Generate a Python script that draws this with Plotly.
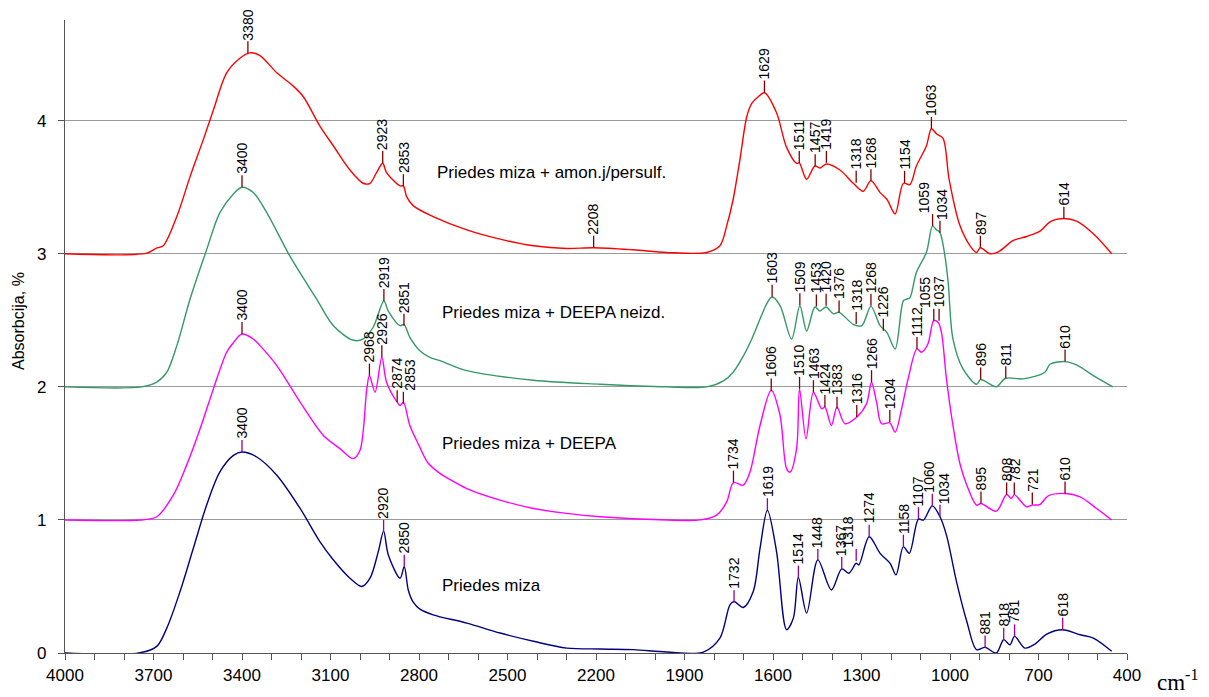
import plotly.graph_objects as go

# ---------------- data (wavenumber cm-1, absorbance relative to each curve's baseline) ----------------
offsets = [3, 2, 1, 0]
names = ["Priedes miza + amon.j/persulf.", "Priedes miza + DEEPA neizd.",
         "Priedes miza + DEEPA", "Priedes miza"]
colors = ["#FF0000", "#339966", "#FF00FF", "#000080"]
tick_colors = ["#800000", "#800000", "#800000", "#990099"]

red_wn = [4000, 3723, 3688, 3667, 3621, 3576, 3531, 3497, 3452, 3407, 3373, 3339, 3282, 3226, 3192,
          3136, 3090, 3034, 2989, 2966, 2944, 2923, 2910, 2864, 2853, 2842, 2819, 2752, 2638, 2525,
          2412, 2299, 2208, 2073, 1960, 1825, 1780, 1757, 1735, 1712, 1689, 1672, 1650, 1629, 1588,
          1554, 1520, 1511, 1486, 1458, 1441, 1419, 1373, 1328, 1294, 1268, 1237, 1214, 1186, 1158,
          1136, 1114, 1080, 1063, 1045, 1024, 1003, 966, 932, 910, 897, 864, 836, 785, 740, 695,
          661, 614, 571, 514, 452]
red_ab = [0.0, 0.005, 0.044, 0.06, 0.28, 0.58, 0.86, 1.08, 1.36, 1.47, 1.51, 1.49, 1.36, 1.26, 1.18,
          0.96, 0.81, 0.63, 0.53, 0.53, 0.61, 0.68, 0.61, 0.51, 0.51, 0.43, 0.36, 0.28, 0.18, 0.11,
          0.06, 0.04, 0.046, 0.03, 0.01, 0.01, 0.06, 0.21, 0.41, 0.71, 1.03, 1.13, 1.18, 1.21, 1.06,
          0.80, 0.68, 0.683, 0.56, 0.66, 0.645, 0.675, 0.63, 0.53, 0.47, 0.55, 0.46, 0.41, 0.30, 0.53,
          0.52, 0.66, 0.81, 0.94, 0.90, 0.87, 0.56, 0.21, 0.06, 0.01, 0.045, 0.0, 0.015, 0.10, 0.13, 0.17,
          0.24, 0.265, 0.245, 0.15, 0.0]

green_wn = [4000, 3740, 3689, 3655, 3621, 3576, 3520, 3475, 3429, 3400, 3362, 3316, 3237, 3147, 3090,
            3023, 2989, 2955, 2919, 2904, 2864, 2851, 2831, 2797, 2763, 2729, 2638, 2412, 2186, 1960, 1825,
            1768, 1735, 1701, 1672, 1644, 1620, 1603, 1576, 1537, 1509, 1486, 1458, 1441, 1420, 1396,
            1376, 1328, 1299, 1268, 1237, 1214, 1186, 1158, 1147, 1136, 1114, 1080, 1059, 1046, 1034,
            1017, 1006, 990, 956, 910, 896, 864, 843, 811, 753, 678, 661, 610, 571, 514, 448]
green_ab = [0.0, 0.0, 0.035, 0.11, 0.31, 0.66, 1.03, 1.31, 1.45, 1.50, 1.46, 1.31, 0.98, 0.66, 0.46,
            0.35, 0.36, 0.45, 0.645, 0.57, 0.46, 0.47, 0.372, 0.272, 0.222, 0.197, 0.122, 0.05, 0.02, 0.0, 0.0,
            0.045, 0.11, 0.23, 0.36, 0.51, 0.63, 0.675, 0.61, 0.36, 0.61, 0.42, 0.60, 0.57, 0.60, 0.55,
            0.56, 0.47, 0.46, 0.605, 0.46, 0.41, 0.285, 0.647, 0.66, 0.67, 0.86, 1.01, 1.21, 1.18, 1.16,
            0.98, 0.78, 0.36, 0.135, 0.02, 0.055, 0.02, 0.0, 0.065, 0.06, 0.11, 0.17, 0.19, 0.165, 0.085, 0.0]

mag_wn = [4000, 3740, 3689, 3633, 3588, 3542, 3497, 3452, 3430, 3400, 3362, 3339, 3282, 3203, 3124,
          3068, 3023, 3000, 2977, 2968, 2949, 2926, 2910, 2874, 2864, 2853, 2831, 2800, 2770, 2729,
          2700, 2638, 2525, 2412, 2299, 2186, 1960, 1847, 1791, 1757, 1734, 1701, 1678, 1644, 1606,
          1576, 1554, 1542, 1520, 1510, 1488, 1463, 1435, 1424, 1402, 1383, 1356, 1316, 1283, 1266,
          1249, 1232, 1204, 1186, 1164, 1142, 1112, 1097, 1075, 1055, 1040, 1029, 1012, 990, 966,
          943, 910, 895, 843, 808, 792, 782, 741, 721, 695, 667, 610, 559, 503, 452]
mag_ab = [0.0, 0.0, 0.024, 0.186, 0.41, 0.685, 0.985, 1.26, 1.33, 1.397, 1.36, 1.31, 1.16, 0.885, 0.635,
          0.536, 0.461, 0.523, 0.985, 1.085, 0.96, 1.222, 1.035, 0.885, 0.86, 0.885, 0.71, 0.56, 0.43, 0.35,
          0.31, 0.236, 0.149, 0.086, 0.049, 0.024, 0.0, 0.0, 0.036, 0.136, 0.281, 0.261, 0.36, 0.71, 0.975,
          0.785, 0.386, 0.36, 0.536, 0.985, 0.61, 0.96, 0.835, 0.848, 0.71, 0.848, 0.723, 0.773, 0.873, 1.035,
          0.885, 0.723, 0.73, 0.66, 0.835, 1.06, 1.285, 1.26, 1.322, 1.497, 1.484, 1.409, 1.06, 0.71, 0.42,
          0.261, 0.111, 0.124, 0.066, 0.191, 0.161, 0.19, 0.099, 0.111, 0.116, 0.181, 0.199, 0.174, 0.086, 0.0]

navy_wn = [4000, 3750, 3689, 3655, 3610, 3565, 3520, 3475, 3429, 3400, 3350, 3282, 3203, 3136, 3090,
           3034, 2994, 2966, 2938, 2920, 2904, 2864, 2850, 2836, 2819, 2797, 2752, 2638, 2525, 2412,
           2299, 2186, 2073, 1960, 1836, 1780, 1746, 1732, 1701, 1667, 1644, 1619, 1588, 1554, 1531,
           1514, 1486, 1448, 1402, 1367, 1343, 1318, 1309, 1274, 1237, 1203, 1183, 1158, 1138, 1107,
           1090, 1060, 1034, 1012, 978, 943, 910, 881, 843, 818, 797, 781, 746, 712, 672, 618, 559,
           514, 452]
navy_ab = [0.0, 0.0, 0.05, 0.187, 0.462, 0.787, 1.111, 1.361, 1.485, 1.51, 1.473, 1.336, 1.086, 0.837, 0.699,
           0.562, 0.50, 0.562, 0.762, 0.916, 0.737, 0.562, 0.649, 0.47, 0.38, 0.33, 0.287, 0.225, 0.15, 0.088,
           0.037, 0.03, 0.025, 0.007, 0.007, 0.112, 0.362, 0.387, 0.342, 0.462, 0.787, 1.073, 0.762, 0.175, 0.262,
           0.567, 0.30, 0.70, 0.474, 0.632, 0.599, 0.674, 0.662, 0.874, 0.749, 0.674, 0.587, 0.799, 0.749, 1.006,
           0.999, 1.106, 1.024, 0.886, 0.537, 0.237, 0.025, 0.042, 0.0, 0.100, 0.062, 0.125, 0.037, 0.067, 0.142,
           0.175, 0.137, 0.112, 0.013]

# peak labels: wavenumber and absorbance of the curve at the mark (relative to baseline)
red_peaks = [3380, 2923, 2853, 2208, 1629, 1511, 1457, 1419, 1318, 1268, 1154, 1063, 897, 614]
red_peak_ab = [1.507, 0.683, 0.508, 0.046, 1.212, 0.683, 0.658, 0.683, 0.533, 0.546, 0.533, 0.938, 0.046, 0.264]

green_peaks = [3400, 2919, 2851, 1603, 1509, 1453, 1420, 1376, 1318, 1268, 1226, 1059, 1034, 896, 811, 610]
green_peak_ab = [1.50, 0.646, 0.459, 0.677, 0.614, 0.604, 0.609, 0.559, 0.472, 0.609, 0.422, 1.208, 1.159,
                 0.055, 0.065, 0.19]

mag_peaks = [3400, 2968, 2926, 2874, 2853, 1734, 1606, 1510, 1463, 1424, 1383, 1316, 1266, 1204, 1112,
             1055, 1037, 895, 808, 782, 721, 610]
mag_peak_ab = [1.397, 1.085, 1.222, 0.885, 0.873, 0.281, 0.972, 0.985, 0.96, 0.848, 0.835, 0.773, 1.035,
               0.736, 1.285, 1.497, 1.497, 0.124, 0.191, 0.191, 0.116, 0.199]

navy_peaks = [3400, 2920, 2850, 1732, 1619, 1514, 1448, 1367, 1318, 1274, 1158, 1107, 1060, 1034, 881,
              818, 781, 618]
navy_peak_ab = [1.51, 0.911, 0.649, 0.382, 1.073, 0.567, 0.692, 0.632, 0.692, 0.874, 0.799, 1.006, 1.106,
                1.024, 0.042, 0.10, 0.125, 0.175]

x_ticks = [4000, 3700, 3400, 3100, 2800, 2500, 2200, 1900, 1600, 1300, 1000, 700, 400]
y_ticks = [0, 1, 2, 3, 4]
label_pos_wn = [2746, 2729, 2729, 2729]
label_pos_ab = [0.61, 0.562, 0.573, 0.509]

# manual horizontal nudges (pixels) of crowded peak labels: (curve index, wavenumber) -> shift
label_nudge = {(2, 2853): 7, (2, 2874): -1, (1, 1059): -9, (1, 1034): 2,
               (2, 1055): -9, (3, 1060): -3, (3, 1034): 4, (3, 1318): -8}

curves = [(red_wn, red_ab), (green_wn, green_ab), (mag_wn, mag_ab), (navy_wn, navy_ab)]
peaks = [(red_peaks, red_peak_ab), (green_peaks, green_peak_ab), (mag_peaks, mag_peak_ab),
         (navy_peaks, navy_peak_ab)]

FONT = "Liberation Sans, Arial, sans-serif"
fig = go.Figure()

for (wn, ab), off, col, nm in zip(curves, offsets, colors, names):
    fig.add_trace(go.Scatter(x=wn, y=[a + off for a in ab], mode="lines", name=nm,
                             line=dict(color=col, width=1.4, shape="spline", smoothing=0.9),
                             showlegend=False, hoverinfo="skip"))

shapes = []
annotations = []
TICK = 12
for ci, ((pw, pa), off, tc) in enumerate(zip(peaks, offsets, tick_colors)):
    for w, a in zip(pw, pa):
        shapes.append(dict(type="line", xref="x", yref="y", ysizemode="pixel", yanchor=a + off,
                           x0=w, x1=w, y0=0, y1=TICK, line=dict(color=tc, width=1.3)))
        annotations.append(dict(x=w, y=a + off, xref="x", yref="y", text=str(w), showarrow=False,
                                textangle=-90, yanchor="bottom", xanchor="center", yshift=TICK - 1,
                                xshift=label_nudge.get((ci, w), 0),
                                font=dict(family=FONT, size=14, color="#000000")))

for nm, lw, la, off in zip(names, label_pos_wn, label_pos_ab, offsets):
    annotations.append(dict(x=lw, y=la + off, xref="x", yref="y", text=nm, showarrow=False,
                            xanchor="left", yanchor="middle",
                            font=dict(family=FONT, size=17, color="#000000")))

annotations.append(dict(x=1.027, y=-0.043, xref="paper", yref="paper", text="cm<sup>-1</sup>",
                        showarrow=False, xanchor="left", yanchor="middle", borderpad=0,
                        font=dict(family="Liberation Serif, Times New Roman, serif", size=23, color="#000000")))
annotations.append(dict(x=-0.044, y=0.525, xref="paper", yref="paper", text="Absorbcija, %",
                        showarrow=False, textangle=-90, xanchor="center", yanchor="middle",
                        font=dict(family=FONT, size=16, color="#000000")))

fig.update_layout(
    width=1209, height=697,
    margin=dict(l=65, r=82, t=20, b=42),
    paper_bgcolor="white", plot_bgcolor="white",
    shapes=shapes, annotations=annotations,
    xaxis=dict(range=[4000, 400], tickvals=x_ticks, ticktext=[str(v) for v in x_ticks],
               showgrid=False, zeroline=False, showline=True, linecolor="#555555", linewidth=1.2,
               ticks="outside", ticklen=6, tickcolor="#555555",
               minor=dict(dtick=100, tick0=400, ticks="outside", ticklen=6, tickcolor="#555555"),
               tickfont=dict(family=FONT, size=17, color="#000000")),
    yaxis=dict(range=[0, 4.757], tickvals=y_ticks, showgrid=True, gridcolor="#999999", gridwidth=1.2,
               zeroline=False, showline=True, linecolor="#555555", linewidth=1.2,
               ticks="outside", ticklen=6, tickcolor="#555555", ticklabelstandoff=8,
               tickfont=dict(family=FONT, size=17, color="#000000")),
)

fig.write_html("out.html", config={"displayModeBar": False},
               post_script="document.body.style.margin='0';document.body.style.overflow='hidden';")
